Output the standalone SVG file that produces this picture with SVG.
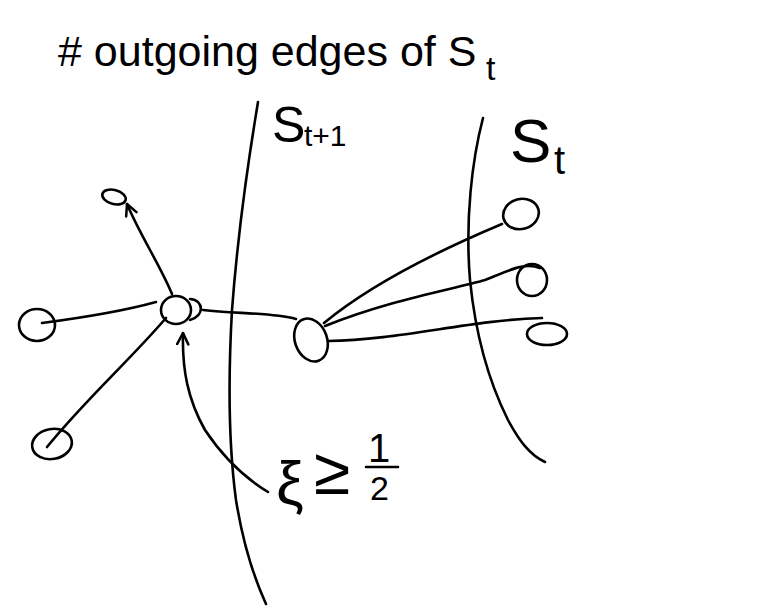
<svg xmlns="http://www.w3.org/2000/svg" width="764" height="608" viewBox="0 0 764 608">
<style>
.s{fill:none;stroke:#000;stroke-width:2.6;stroke-linecap:round;stroke-linejoin:round}
.t{font-family:"Liberation Sans","DejaVu Sans",sans-serif;fill:#000}
</style>
<defs>
<marker id="ah" viewBox="0 0 10 10" refX="9" refY="5" markerWidth="14" markerHeight="14" orient="auto" markerUnits="userSpaceOnUse">
<path d="M1,1 L9,5 L1,9" fill="none" stroke="#000" stroke-width="1.8" stroke-linecap="round" stroke-linejoin="round"/>
</marker>
</defs>
<rect width="764" height="608" fill="#fff"/>

<g id="title">
<text class="t" x="58" y="66" font-size="43"># outgoing edges of S</text>
<text class="t" x="486" y="80" font-size="34">t</text>
</g>

<g id="cut-left">
<path class="s" d="M258,102 C250,150 238,230 232,310 C228,380 228,440 236,500 C244,550 255,580 266,604"/>
<text class="t" x="272" y="142" font-size="50">S</text>
<text class="t" x="304" y="146" font-size="30">t+1</text>
</g>

<g id="cut-right">
<path class="s" d="M483,118 C472,160 465,220 470,280 C475,330 488,380 508,420 C520,442 530,455 545,462"/>
<text class="t" x="510" y="162" font-size="62">S</text>
<text class="t" x="554" y="174" font-size="40">t</text>
</g>

<g id="n-top"><ellipse class="s" cx="114" cy="197" rx="12" ry="7" transform="rotate(15 114 197)"/></g>
<g id="n-left"><ellipse class="s" cx="37" cy="325" rx="18" ry="16"/></g>
<g id="n-bottom"><ellipse class="s" cx="52" cy="444" rx="20" ry="15" transform="rotate(-10 52 444)"/></g>
<g id="n-center"><ellipse class="s" cx="176" cy="310" rx="15" ry="14"/><path class="s" d="M190,299 C204,300 205,316 190,320"/></g>
<g id="n-mid"><ellipse class="s" cx="311" cy="340" rx="16" ry="22" transform="rotate(-20 311 340)"/></g>
<g id="n-r1"><ellipse class="s" cx="521" cy="214" rx="18" ry="15" transform="rotate(-15 521 214)"/></g>
<g id="n-r2"><ellipse class="s" cx="532" cy="280" rx="15" ry="16"/></g>
<g id="n-r3"><ellipse class="s" cx="547" cy="334" rx="20" ry="11"/></g>

<g id="label-xi">
<text class="t" x="276" y="504" font-size="62">ξ</text>
<text class="t" x="314" y="494" font-size="66">≥</text>
<text class="t" x="368" y="462" font-size="40">1</text>
<path class="s" d="M366,467 L398,467"/>
<text class="t" x="370" y="500" font-size="34">2</text>
</g>

<g id="connectors">
<path class="s" d="M172,294 C160,265 140,235 127,204" marker-end="url(#ah)"/>
<path class="s" d="M156,302 C120,312 80,318 42,323"/>
<path class="s" d="M166,318 C130,360 85,400 47,447"/>
<path class="s" d="M203,310 C235,314 270,312 296,319"/>
<path class="s" d="M324,323 C370,285 440,250 502,224"/>
<path class="s" d="M325,326 C390,300 450,290 485,280 C510,270 525,262 540,268"/>
<path class="s" d="M328,341 C400,340 470,320 542,318"/>
<path class="s" d="M268,492 C245,478 225,460 205,430 C188,400 182,370 183,333" marker-end="url(#ah)"/>
</g>
</svg>
